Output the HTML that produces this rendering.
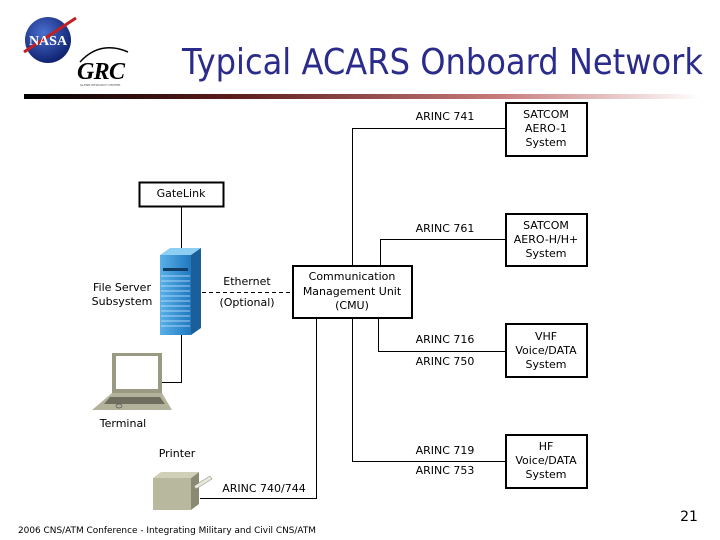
<!DOCTYPE html>
<html><head><meta charset="utf-8"><style>
html,body{margin:0;padding:0;background:#fff}
svg{display:block}
text{font-family:"DejaVu Sans","Liberation Sans",sans-serif;font-size:11px;fill:#000}
</style></head><body>
<svg width="720" height="540" viewBox="0 0 720 540" xmlns="http://www.w3.org/2000/svg">
<defs>
<linearGradient id="bar" x1="0" x2="1" y1="0" y2="0">
<stop offset="0" stop-color="#000"/><stop offset="0.3" stop-color="#5a1a1a"/><stop offset="0.7" stop-color="#c77a7a"/><stop offset="1" stop-color="#fff"/>
</linearGradient>
<radialGradient id="globe" cx="0.4" cy="0.35" r="0.7"><stop offset="0" stop-color="#4a6fd0"/><stop offset="1" stop-color="#0c1d6a"/></radialGradient>
<linearGradient id="srv" x1="0" x2="1"><stop offset="0" stop-color="#5ab0e8"/><stop offset="1" stop-color="#1f78c0"/></linearGradient>
</defs>
<!-- logos -->
<circle cx="48" cy="40" r="23" fill="url(#globe)"/>
<path d="M24 52 L76 18" stroke="#c02020" stroke-width="3"/>
<text x="48" y="45" text-anchor="middle" style="font-family:'Liberation Serif',serif;font-weight:bold;font-size:14px;fill:#fff">NASA</text>
<path d="M80 62 Q100 40 128 52" stroke="#000" stroke-width="1.5" fill="none"/>
<text x="77" y="79" textLength="48" style="font-family:'Liberation Serif',serif;font-weight:bold;font-style:italic;font-size:24px;fill:#000">GRC</text>
<text x="80" y="86" style="font-size:3px;fill:#555">GLENN RESEARCH CENTER</text>
<!-- title -->
<text x="182" y="74" textLength="521" lengthAdjust="spacingAndGlyphs" style="font-size:36px;fill:#2b2b8c">Typical ACARS Onboard Network</text>
<rect x="24" y="94" width="676" height="5" fill="url(#bar)"/>
<!-- lines -->
<g stroke="#000" stroke-width="1" fill="none">
<path d="M352.5 266 V128.5 H506"/>
<path d="M380.5 266 V239.5 H506"/>
<path d="M378.5 318 V351.5 H506"/>
<path d="M352.5 318 V461.5 H506"/>
<path d="M316.5 318 V498.5 H200"/>
<path d="M181.5 206 V250"/>
<path d="M181.5 335 V382.5 H162"/>
<path d="M202 292.5 H293" stroke-dasharray="4,3"/>
<rect x="139.5" y="182.5" width="84" height="24" stroke-width="2"/>
<rect x="293" y="266" width="119" height="52" stroke-width="2"/>
<rect x="506" y="103" width="81" height="53" stroke-width="2"/>
<rect x="506" y="214" width="81" height="52" stroke-width="2"/>
<rect x="506" y="324" width="81" height="53" stroke-width="2"/>
<rect x="506" y="435" width="81" height="53" stroke-width="2"/>
</g>
<!-- server -->
<polygon points="160,255 170,248 201,248 191,255" fill="#8ccff2"/>
<polygon points="191,255 201,248 201,328 191,335" fill="#1a5f9a"/>
<rect x="160" y="255" width="31" height="80" fill="url(#srv)"/>
<rect x="163" y="268" width="25" height="3" fill="#123d66"/>
<g stroke="#cfeaff" stroke-width="0.7">
<line x1="161" y1="276" x2="190" y2="276"/><line x1="161" y1="281" x2="190" y2="281"/><line x1="161" y1="286" x2="190" y2="286"/><line x1="161" y1="291" x2="190" y2="291"/><line x1="161" y1="296" x2="190" y2="296"/><line x1="161" y1="301" x2="190" y2="301"/><line x1="161" y1="306" x2="190" y2="306"/><line x1="161" y1="311" x2="190" y2="311"/><line x1="161" y1="316" x2="190" y2="316"/><line x1="161" y1="321" x2="190" y2="321"/><line x1="161" y1="326" x2="190" y2="326"/>
</g>
<!-- laptop -->
<rect x="112" y="353" width="50" height="40" fill="#9a9a82"/>
<rect x="116" y="356" width="42" height="33" fill="#fff"/>
<polygon points="112,393 162,393 172,410 92,410" fill="#b3b39b"/>
<polygon points="110,397 160,397 165,404 104,404" fill="#6e6e5e"/>
<ellipse cx="119" cy="406" rx="3" ry="2" fill="none" stroke="#555" stroke-width="0.7"/>
<!-- printer -->
<rect x="153" y="478" width="38" height="32" fill="#b8b89e"/>
<polygon points="191,478 199,472 199,504 191,510" fill="#8a8a72"/>
<polygon points="153,478 161,472 199,472 191,478" fill="#d0d0b8"/>
<polygon points="194,486 210,476 212,479 196,489" fill="#e8e8d8" stroke="#777" stroke-width="0.5"/>
<!-- labels -->
<text x="181" y="197" text-anchor="middle">GateLink</text>
<text x="122" y="291" text-anchor="middle">File Server</text>
<text x="122" y="305" text-anchor="middle">Subsystem</text>
<text x="247" y="285" text-anchor="middle">Ethernet</text>
<text x="247" y="306" text-anchor="middle">(Optional)</text>
<text x="352" y="280" text-anchor="middle">Communication</text>
<text x="352" y="295" text-anchor="middle">Management Unit</text>
<text x="352" y="309" text-anchor="middle">(CMU)</text>
<text x="123" y="427" text-anchor="middle">Terminal</text>
<text x="177" y="457" text-anchor="middle">Printer</text>
<text x="264" y="492" text-anchor="middle">ARINC 740/744</text>
<text x="445" y="120" text-anchor="middle">ARINC 741</text>
<text x="445" y="232" text-anchor="middle">ARINC 761</text>
<text x="445" y="343" text-anchor="middle">ARINC 716</text>
<text x="445" y="365" text-anchor="middle">ARINC 750</text>
<text x="445" y="454" text-anchor="middle">ARINC 719</text>
<text x="445" y="474" text-anchor="middle">ARINC 753</text>
<text x="546" y="118" text-anchor="middle">SATCOM</text>
<text x="546" y="132" text-anchor="middle">AERO-1</text>
<text x="546" y="146" text-anchor="middle">System</text>
<text x="546" y="229" text-anchor="middle">SATCOM</text>
<text x="546" y="243" text-anchor="middle">AERO-H/H+</text>
<text x="546" y="257" text-anchor="middle">System</text>
<text x="546" y="340" text-anchor="middle">VHF</text>
<text x="546" y="354" text-anchor="middle">Voice/DATA</text>
<text x="546" y="368" text-anchor="middle">System</text>
<text x="546" y="450" text-anchor="middle">HF</text>
<text x="546" y="464" text-anchor="middle">Voice/DATA</text>
<text x="546" y="478" text-anchor="middle">System</text>
<text x="18" y="533" textLength="298" lengthAdjust="spacingAndGlyphs" style="font-size:9px">2006 CNS/ATM Conference - Integrating Military and Civil CNS/ATM</text>
<text x="689" y="521" text-anchor="middle" style="font-size:14px">21</text>
</svg>
</body></html>
